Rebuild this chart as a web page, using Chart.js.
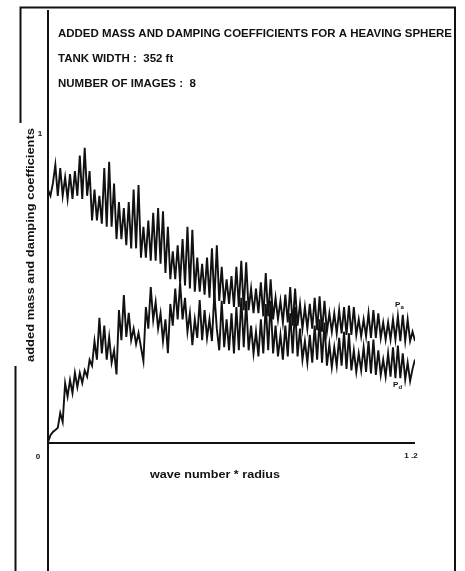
<!DOCTYPE html>
<html>
<head>
<meta charset="utf-8">
<script src="https://cdn.jsdelivr.net/npm/chart.js@4"></script>
<style>
  html, body { margin: 0; padding: 0; background: #fff; }
  #wrap { width: 465px; height: 571px; position: relative; }
</style>
</head>
<body>
<div id="wrap"><canvas id="c" width="465" height="571"></canvas></div>
<script>
// wave number * radius
const kr = [
  0,0.008,0.016,0.024,0.032,0.04,0.048,0.056,0.064,0.072,
  0.08,0.088,0.096,0.104,0.112,0.12,0.128,0.136,0.144,0.152,
  0.16,0.168,0.176,0.184,0.192,0.2,0.208,0.216,0.224,0.232,
  0.24,0.248,0.256,0.264,0.272,0.28,0.288,0.296,0.304,0.312,
  0.32,0.328,0.336,0.344,0.352,0.36,0.368,0.376,0.384,0.392,
  0.4,0.408,0.416,0.424,0.432,0.44,0.448,0.456,0.464,0.472,
  0.48,0.488,0.496,0.504,0.512,0.52,0.528,0.536,0.544,0.552,
  0.56,0.568,0.576,0.584,0.592,0.6,0.608,0.616,0.624,0.632,
  0.64,0.648,0.656,0.664,0.672,0.68,0.688,0.696,0.704,0.712,
  0.72,0.728,0.736,0.744,0.752,0.76,0.768,0.776,0.784,0.792,
  0.8,0.808,0.816,0.824,0.832,0.84,0.848,0.856,0.864,0.872,
  0.88,0.888,0.896,0.904,0.912,0.92,0.928,0.936,0.944,0.952,
  0.96,0.968,0.976,0.984,0.992,1.0,1.008,1.016,1.024,1.032,
  1.04,1.048,1.056,1.064,1.072,1.08,1.088,1.096,1.104,1.112,
  1.12,1.128,1.136,1.144,1.152,1.16,1.168,1.176,1.184,1.192,
  1.2
];

// added mass coefficient (upper curve)
const addedMass = [
  0.82,0.80,0.84,0.90,0.80,0.89,0.80,0.86,0.79,0.87,
  0.79,0.88,0.80,0.93,0.79,0.955,0.80,0.88,0.72,0.82,
  0.72,0.80,0.71,0.89,0.70,0.91,0.70,0.84,0.66,0.78,
  0.66,0.76,0.64,0.78,0.63,0.82,0.63,0.835,0.60,0.70,
  0.60,0.72,0.59,0.745,0.59,0.76,0.58,0.75,0.55,0.70,
  0.53,0.62,0.53,0.64,0.52,0.66,0.51,0.70,0.50,0.69,
  0.49,0.60,0.49,0.58,0.48,0.60,0.47,0.63,0.46,0.64,
  0.46,0.57,0.45,0.53,0.45,0.54,0.44,0.57,0.44,0.59,
  0.43,0.585,0.43,0.50,0.42,0.50,0.42,0.52,0.41,0.55,
  0.41,0.53,0.40,0.47,0.40,0.46,0.39,0.48,0.39,0.505,
  0.38,0.50,0.38,0.45,0.37,0.44,0.37,0.45,0.37,0.47,
  0.365,0.475,0.36,0.46,0.36,0.42,0.36,0.42,0.355,0.43,
  0.355,0.44,0.35,0.445,0.35,0.44,0.35,0.40,0.345,0.40,
  0.345,0.42,0.34,0.43,0.34,0.42,0.34,0.39,0.335,0.39,
  0.335,0.40,0.335,0.41,0.33,0.415,0.33,0.40,0.33,0.36,
  0.33
];

// damping coefficient (lower curve)
const damping = [
  0.003,0.025,0.036,0.042,0.049,0.097,0.068,0.194,0.15,0.204,
  0.162,0.227,0.181,0.227,0.194,0.235,0.215,0.269,0.25,0.33,
  0.27,0.405,0.29,0.38,0.27,0.343,0.26,0.30,0.222,0.43,
  0.333,0.479,0.343,0.421,0.333,0.37,0.32,0.356,0.31,0.265,
  0.44,0.37,0.505,0.398,0.456,0.37,0.42,0.33,0.40,0.291,
  0.45,0.38,0.50,0.40,0.52,0.40,0.47,0.36,0.42,0.317,
  0.40,0.34,0.463,0.333,0.43,0.34,0.40,0.33,0.485,0.37,
  0.30,0.46,0.31,0.40,0.30,0.42,0.29,0.44,0.30,0.47,
  0.31,0.46,0.30,0.38,0.29,0.36,0.28,0.40,0.29,0.45,
  0.30,0.46,0.29,0.38,0.28,0.35,0.27,0.38,0.28,0.42,
  0.29,0.44,0.28,0.37,0.27,0.33,0.26,0.35,0.26,0.38,
  0.27,0.40,0.26,0.39,0.25,0.32,0.245,0.31,0.25,0.34,
  0.25,0.36,0.24,0.355,0.235,0.30,0.23,0.29,0.235,0.31,
  0.23,0.33,0.225,0.335,0.22,0.30,0.22,0.27,0.215,0.29,
  0.215,0.31,0.21,0.315,0.21,0.29,0.205,0.26,0.20,0.24,
  0.27
];

const xTicks = [0, 1.2];
const yTicks = [1];
const seriesTags = [
  { main: 'P', sub: 'a', x: 1.135, y: 0.44 },
  { main: 'P', sub: 'd', x: 1.128, y: 0.18 }
];
const headerLines = [
  'ADDED MASS AND DAMPING COEFFICIENTS FOR A HEAVING SPHERE',
  'TANK WIDTH :  352 ft',
  'NUMBER OF IMAGES :  8'
];
const xTitle = 'wave number * radius';
const yTitle = 'added mass and damping coefficients';

const INK = '#111';

// draw text with a horizontal stretch factor
function wideText(ctx, text, x, y, sx) {
  ctx.save();
  ctx.translate(x, y);
  ctx.scale(sx, 1);
  ctx.fillText(text, 0, 0);
  ctx.restore();
}
function fitText(ctx, text, x, y, width) {
  wideText(ctx, text, x, y, width / ctx.measureText(text).width);
}

const decor = {
  id: 'decor',
  beforeDatasetsDraw(chart) {
    const { ctx, chartArea: a, scales: { x, y } } = chart;
    ctx.save();
    ctx.strokeStyle = INK;
    ctx.lineCap = 'butt';

    // outer frame (left side broken by the axis title)
    ctx.lineWidth = 2;
    ctx.beginPath();
    ctx.moveTo(20.5, 123);
    ctx.lineTo(20.5, 7.5);
    ctx.lineTo(455, 7.5);
    ctx.lineTo(455, 571);
    ctx.moveTo(15.5, 366);
    ctx.lineTo(15.5, 571);
    ctx.stroke();

    // axes
    const x0 = x.getPixelForValue(0);
    const y0 = y.getPixelForValue(0);
    ctx.lineWidth = 2;
    ctx.beginPath();
    ctx.moveTo(x0, a.top);
    ctx.lineTo(x0, a.bottom);
    ctx.moveTo(x0, y0);
    ctx.lineTo(x.getPixelForValue(1.2), y0);
    ctx.stroke();

    // tick labels
    ctx.fillStyle = INK;
    ctx.font = 'bold 8px "Liberation Sans"';
    ctx.textBaseline = 'middle';
    ctx.textAlign = 'center';
    yTicks.forEach(v => ctx.fillText(String(v), x0 - 8, y.getPixelForValue(v)));
    xTicks.forEach(v => {
      const px = x.getPixelForValue(v);
      if (v === 0) ctx.fillText('0', px - 10, y0 + 14);
      else ctx.fillText('1 .2', px - 4, y0 + 13);
    });

    // axis titles
    ctx.font = 'bold 11px "Liberation Sans"';
    ctx.textAlign = 'left';
    ctx.textBaseline = 'alphabetic';
    fitText(ctx, xTitle, 150, 478, 130);
    ctx.save();
    ctx.translate(34, 362);
    ctx.rotate(-Math.PI / 2);
    fitText(ctx, yTitle, 0, 0, 234);
    ctx.restore();

    // header, all lines share the stretch of the first one
    ctx.font = 'bold 11px "Liberation Sans"';
    const sx = 394 / ctx.measureText(headerLines[0]).width;
    wideText(ctx, headerLines[0], 58, 37, sx);
    wideText(ctx, headerLines[1], 58, 62, sx);
    wideText(ctx, headerLines[2], 58, 87, sx);

    // curve tags
    seriesTags.forEach(t => {
      const px = x.getPixelForValue(t.x);
      const py = y.getPixelForValue(t.y);
      ctx.font = 'bold 8px "Liberation Sans"';
      ctx.fillText(t.main, px, py);
      ctx.font = 'bold 6px "Liberation Sans"';
      ctx.fillText(t.sub, px + 5.5, py + 2);
    });
    ctx.restore();
  }
};

const pts = arr => arr.map((v, i) => ({ x: kr[i], y: v }));

new Chart(document.getElementById('c'), {
  type: 'line',
  data: {
    datasets: [
      { label: 'added mass', data: pts(addedMass) },
      { label: 'damping', data: pts(damping) }
    ]
  },
  options: {
    responsive: false,
    animation: false,
    events: [],
    layout: { padding: { left: 48, right: 50, top: 10, bottom: 0 } },
    elements: {
      line: { borderColor: INK, borderWidth: 1.9, tension: 0, fill: false },
      point: { radius: 0 }
    },
    plugins: { legend: { display: false }, tooltip: { enabled: false }, title: { display: false } },
    scales: {
      x: { type: 'linear', min: 0, max: 1.2, display: false },
      y: { type: 'linear', min: -0.4142, max: 1.4013, display: false }
    }
  },
  plugins: [decor]
});
</script>
</body>
</html>
